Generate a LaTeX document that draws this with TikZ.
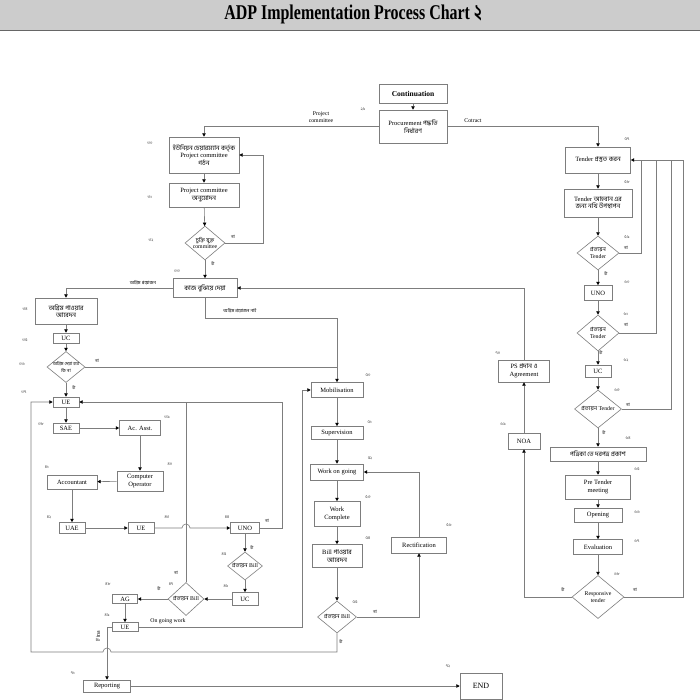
\documentclass[tikz,border=0pt]{standalone}
\usepackage{graphicx}
\usepackage{fontspec}
\setmainfont{Liberation Serif}
\newfontfamily\bn[Script=Bengali]{Hind Siliguri}
\usetikzlibrary{shapes.geometric,arrows.meta}
\definecolor{lc}{RGB}{125,125,125}
\tikzset{
 bx/.style={draw=lc, line width=0.6pt, inner sep=0pt, align=center, font=\fontsize{6.5}{7.6}\selectfont, fill=white},
 dm/.style={diamond, draw=lc, line width=0.6pt, inner sep=0pt, fill=white},
 ln/.style={draw=lc, line width=0.6pt},
 ar/.style={ln, -{Triangle[length=3.4pt,width=3.4pt,color=black]}},
 lb/.style={font=\fontsize{5.8}{6.6}\selectfont, inner sep=0pt, align=center},
 dlb/.style={font=\fontsize{5.8}{6.6}\selectfont, inner sep=0pt, align=center},
 yn/.style={font=\bn\fontsize{4.5}{5}\selectfont, inner sep=0pt},
 num/.style={font=\bn\fontsize{4.2}{5}\selectfont, text=black!75, inner sep=0pt},
}
\begin{document}
\begin{tikzpicture}[x=1pt,y=-1pt]
\useasboundingbox (0,0) rectangle (700,700);
\fill[white] (0,0) rectangle (700,700);
% title bar
\fill[black!20] (0,0) rectangle (700,30);
\draw[black!60, line width=1.4pt] (0,30.5) -- (700,30.5);
\node[inner sep=0pt] (title) at (353,14) {\fontsize{21}{21}\selectfont\bfseries\scalebox{0.76}[1]{ADP Implementation Process Chart {\bn ২}}};

% ---------- top ----------
\node[bx, minimum width=68pt, minimum height=19pt, font=\fontsize{7.5}{8}\selectfont\bfseries] (cont) at (413,93.5) {Continuation};
\node[bx, minimum width=68pt, minimum height=33pt] (proc) at (413,126.5) {Procurement {\bn পদ্ধতি}\\{\bn নির্ধারণ}};

% ---------- left upper ----------
\node[bx, minimum width=70pt, minimum height=36pt] (uc1) at (204,155) {{\bn ইউনিয়ন চেয়ারম্যান কর্তৃক}\\Project committee\\{\bn গঠন}};
\node[bx, minimum width=70pt, minimum height=24pt] (pca) at (204,195) {Project committee\\{\bn অনুমোদন}};
\node[dm, minimum width=40pt, minimum height=34pt, label={[dlb]center:{\bn চুক্তি যুক্ত}\\committee}] (d1) at (205,243) {};
\node[bx, minimum width=64pt, minimum height=19pt] (kaj) at (205,288) {{\bn কাজ বুঝিয়ে দেয়া}};

\node[bx, minimum width=62pt, minimum height=26pt] (ag1) at (66,311) {{\bn অগ্রিম পাওয়ার}\\{\bn আবেদন}};
\node[bx, minimum width=26pt, minimum height=10pt] (ucA) at (66,338) {UC};
\node[dm, minimum width=38pt, minimum height=31pt, label={[dlb]center:{\bn\fontsize{4.6}{5.4}\selectfont অগ্রিম দেয়া হবে}\\{\bn\fontsize{4.6}{5.4}\selectfont কি না}}] (d2) at (66,367) {};
\node[bx, minimum width=26pt, minimum height=10pt] (ueA) at (66,402) {UE};
\node[bx, minimum width=26pt, minimum height=10pt] (sae) at (66,428) {SAE};
\node[bx, minimum width=41pt, minimum height=15pt] (acs) at (140,428) {Ac. Asst.};
\node[bx, minimum width=46pt, minimum height=20pt] (cop) at (140,481) {Computer\\Operator};
\node[bx, minimum width=50pt, minimum height=14pt] (acn) at (72,482) {Accountant};
\node[bx, minimum width=26pt, minimum height=11pt] (uae) at (72,528) {UAE};
\node[bx, minimum width=26pt, minimum height=11pt] (ueB) at (141,528) {UE};
\node[bx, minimum width=29pt, minimum height=11pt] (unoA) at (245,528) {UNO};
\node[dm, minimum width=35pt, minimum height=28pt, label={[dlb]center:{\bn প্রত্যয়ন} Bill}] (d3) at (245,566) {};
\node[bx, minimum width=26pt, minimum height=13pt] (ucB) at (245,599) {UC};
\node[dm, minimum width=36pt, minimum height=33pt, label={[dlb]center:{\bn প্রত্যয়ন} Bill}] (d4) at (186,599) {};
\node[bx, minimum width=25pt, minimum height=9pt] (agB) at (125,599) {AG};
\node[bx, minimum width=26pt, minimum height=9pt] (ueC) at (125,627) {UE};
\node[bx, minimum width=47pt, minimum height=12pt] (rep) at (107,686) {Reporting};
\node[bx, minimum width=42pt, minimum height=26pt, font=\fontsize{8}{9}\selectfont] (endn) at (481,686) {END};

% ---------- middle ----------
\node[bx, minimum width=52pt, minimum height=15pt] (mob) at (337,390) {Mobilisation};
\node[bx, minimum width=52pt, minimum height=13pt] (sup) at (337,433) {Supervision};
\node[bx, minimum width=53pt, minimum height=16pt] (wog) at (337,472) {Work on going};
\node[bx, minimum width=46pt, minimum height=25pt] (wc) at (337,514) {Work\\Complete};
\node[bx, minimum width=50pt, minimum height=23pt] (bill) at (337,556) {Bill {\bn পাওয়ার}\\{\bn আবেদন}};
\node[dm, minimum width=39pt, minimum height=32pt, label={[dlb]center:{\bn প্রত্যয়ন} Bill}] (d5) at (337,617) {};
\node[bx, minimum width=55pt, minimum height=16pt] (rect) at (419,545) {Rectification};

% ---------- right ----------
\node[bx, minimum width=65pt, minimum height=26pt] (ten) at (598,160) {Tender {\bn প্রস্তুত করন}};
\node[bx, minimum width=68pt, minimum height=28pt] (tah) at (598,203) {Tender {\bn আহবান এর}\\{\bn জন্য নথি উপস্থাপন}};
\node[dm, minimum width=42pt, minimum height=34pt, label={[dlb]center:{\bn প্রত্যয়ন}\\Tender}] (d6) at (598,253) {};
\node[bx, minimum width=28pt, minimum height=15pt] (unoR) at (598,293) {UNO};
\node[dm, minimum width=42pt, minimum height=36pt, label={[dlb]center:{\bn প্রত্যয়ন}\\Tender}] (d7) at (598,333) {};
\node[bx, minimum width=26pt, minimum height=12pt] (ucR) at (598,371) {UC};
\node[dm, minimum width=47pt, minimum height=38pt, label={[dlb]center:{\bn প্রত্যয়ন} Tender}] (d8) at (598,409) {};
\node[bx, minimum width=96pt, minimum height=14pt] (pat) at (598,454) {{\bn পত্রিকা তে দরপত্র প্রকাশ}};
\node[bx, minimum width=65pt, minimum height=24pt] (pre) at (598,487) {Pre Tender\\meeting};
\node[bx, minimum width=48pt, minimum height=14pt] (opn) at (598,515) {Opening};
\node[bx, minimum width=49pt, minimum height=15pt] (evl) at (598,547) {Evaluation};
\node[dm, minimum width=52pt, minimum height=43pt, label={[dlb]center:Responsive\\tender}] (d9) at (598,597) {};
\node[bx, minimum width=32pt, minimum height=16pt] (noa) at (524,441) {NOA};
\node[bx, minimum width=51pt, minimum height=22pt] (ps) at (524,371) {PS {\bn প্রদান ও}\\Agreement};

% ---------- coordinates ----------
\coordinate (c1) at (263,243);
\coordinate (c2) at (205,318);
\coordinate (c3) at (337,367);
\coordinate (c4) at (282,402);
\coordinate (c5) at (186,402);
\coordinate (c6) at (302,627);
\coordinate (c7) at (107,627);
\coordinate (c8) at (337,652);
\coordinate (c9) at (31,652);
\coordinate (r0) at (641,160);
\coordinate (r1) at (656,160);
\coordinate (r2) at (671,160);
\coordinate (r3) at (683,160);

% ---------- connectors ----------
\draw[ar] (cont) -- (proc);
\draw[ar] (proc.west) -| (uc1.north);
\draw[ar] (proc.east) -| (ten.north);
\draw[ar] (uc1) -- (pca);
\draw[ar] (pca) -- (d1);
\draw[ar] (d1.east) -- (c1) |- (uc1.east);
\draw[ar] (d1) -- (kaj);
\draw[ar] (ps.north) |- (kaj.east);
\draw[ar] (kaj.west) -| (ag1.north);
\draw[ar] (kaj.south) -- (c2) -| (mob.north);
\draw[ar] (ag1) -- (ucA);
\draw[ar] (ucA) -- (d2);
\draw[ln] (d2.east) -- (c3);
\draw[ar] (d2) -- (ueA);
\draw[ar] (ueA) -- (sae);
\draw[ar] (sae) -- (acs);
\draw[ar] (acs) -- (cop);
\draw[ar] (cop) -- (acn);
\draw[ar] (acn) -- (uae);
\draw[ar] (uae) -- (ueB);
\draw[ar] (ueB.east) -- (182,528) arc[start angle=180,end angle=0,radius=4pt] -- (unoA.west);
\draw[ar] (unoA.east) -| (c4) -- (ueA.east);
\draw[ar] (unoA) -- (d3);
\draw[ar] (d3) -- (ucB);
\draw[ar] (ucB) -- (d4);
\draw[ar] (d4) -- (agB);
\draw[ln] (d4.north) -- (c5);
\draw[ar] (agB) -- (ueC);
\draw[ar] (ueC.east) -- (c6) |- (mob.west);
\draw[ar] (ueC.west) -- (c7) -- (rep.north);
\draw[ar] (d5.south) -- (c8) -- (111,652) arc[start angle=0,end angle=180,radius=4pt] -- (c9) |- (ueA.west);
\draw[ar] (mob) -- (sup);
\draw[ar] (sup) -- (wog);
\draw[ar] (wog) -- (wc);
\draw[ar] (wc) -- (bill);
\draw[ar] (bill) -- (d5);
\draw[ar] (d5.east) -| (rect.south);
\draw[ar] (rect.north) |- (wog.east);
\draw[ar] (rep) -- (endn);

\draw[ar] (ten) -- (tah);
\draw[ar] (tah) -- (d6);
\draw[ar] (d6.east) -| (r0) -- (ten.east);
\draw[ln] (d7.east) -| (r1) -- (r0);
\draw[ln] (d8.east) -| (r2) -- (r1);
\draw[ln] (d9.east) -| (r3) -- (r2);
\draw[ar] (d6) -- (unoR);
\draw[ar] (unoR) -- (d7);
\draw[ar] (d7) -- (ucR);
\draw[ar] (ucR) -- (d8);
\draw[ar] (d8) -- (pat);
\draw[ar] (pat) -- (pre);
\draw[ar] (pre) -- (opn);
\draw[ar] (opn) -- (evl);
\draw[ar] (evl) -- (d9);
\draw[ar] (d9.west) -| (noa.south);
\draw[ar] (noa) -- (ps);

% ---------- connector labels ----------
\node[lb] (lpc) at (321,117) {Project\\committee};
\node[lb] (lct) at (473,121) {Cotract};
\node[lb, font=\bn\fontsize{4.6}{5}\selectfont] (lap) at (143,283) {অগ্রিম প্রয়োজন};
\node[lb, font=\bn\fontsize{4.6}{5}\selectfont] (lan) at (240,311) {অগ্রিম প্রয়োজন নাই};
\node[lb] (log) at (168,621) {On going work};
\node[lb, rotate=90] (lfi) at (98,636) {Fina};
\node[yn] (y1) at (233,237) {না};
\node[yn] (y2) at (213,264) {হাঁ};
\node[yn] (y3) at (97,361) {না};
\node[yn] (y4) at (74,388) {হাঁ};
\node[yn] (y5) at (252,548) {হাঁ};
\node[yn] (y6) at (267,521) {না};
\node[yn] (y7) at (176,573) {না};
\node[yn] (y8) at (159,589) {হাঁ};
\node[yn] (y9) at (375,612) {না};
\node[yn] (y10) at (341,642) {হাঁ};
\node[yn] (y11) at (626,248) {না};
\node[yn] (y12) at (606,274) {হাঁ};
\node[yn] (y13) at (626,325) {না};
\node[yn] (y14) at (601,353) {হাঁ};
\node[yn] (y15) at (628,405) {না};
\node[yn] (y16) at (604,433) {হাঁ};
\node[yn] (y17) at (635,590) {না};
\node[yn] (y18) at (563,590) {হাঁ};

% ---------- step numbers ----------
\node[num] at (363,109) {২৯};
\node[num] at (150,143) {৩০};
\node[num] at (150,197) {৩১};
\node[num] at (151,240) {৩২};
\node[num] at (177,271) {৩৩};
\node[num] at (25,309) {৩৪};
\node[num] at (25,340) {৩৫};
\node[num] at (22,364) {৩৬};
\node[num] at (24,392) {৩৭};
\node[num] at (41,424) {৩৮};
\node[num] at (167,417) {৩৯};
\node[num] at (170,464) {৪০};
\node[num] at (47,467) {৪১};
\node[num] at (49,517) {৪২};
\node[num] at (167,517) {৪৩};
\node[num] at (227,517) {৪৪};
\node[num] at (224,554) {৪৫};
\node[num] at (226,586) {৪৬};
\node[num] at (171,584) {৪৭};
\node[num] at (108,584) {৪৮};
\node[num] at (107,615) {৪৯};
\node[num] at (368,375) {৫০};
\node[num] at (370,422) {৫১};
\node[num] at (370,458) {৫২};
\node[num] at (368,497) {৫৩};
\node[num] at (368,538) {৫৪};
\node[num] at (355,602) {৫৫};
\node[num] at (449,525) {৫৬};
\node[num] at (627,139) {৫৭};
\node[num] at (627,182) {৫৮};
\node[num] at (627,237) {৫৯};
\node[num] at (627,282) {৬০};
\node[num] at (626,314) {৬১};
\node[num] at (626,360) {৬২};
\node[num] at (617,390) {৬৩};
\node[num] at (628,438) {৬৪};
\node[num] at (637,469) {৬৫};
\node[num] at (637,512) {৬৬};
\node[num] at (637,541) {৬৭};
\node[num] at (617,574) {৬৮};
\node[num] at (503,424) {৬৯};
\node[num] at (498,353) {৭০};
\node[num] at (73,673) {৭১};
\node[num] at (448,666) {৭২};
\end{tikzpicture}
\end{document}
